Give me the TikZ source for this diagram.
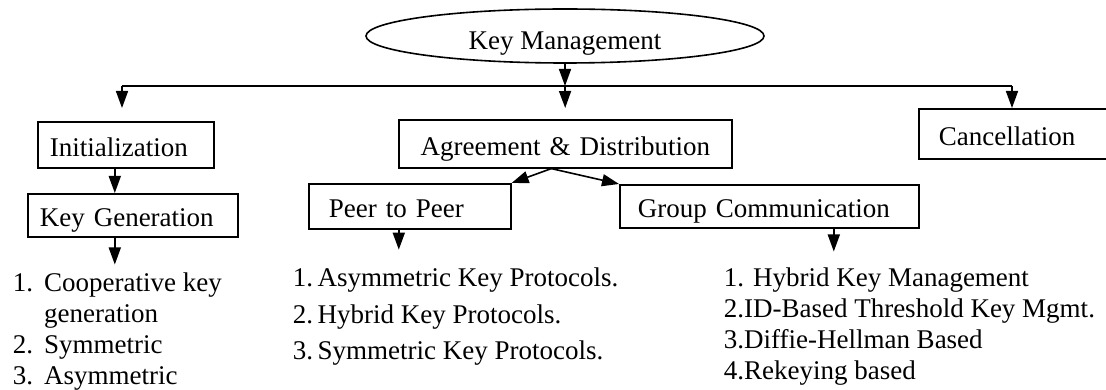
\documentclass[tikz,border=0pt]{standalone}
\usepackage{fontspec}
\setmainfont{Liberation Serif}
\usetikzlibrary{shapes.geometric,arrows.meta}

\begin{document}
\begin{tikzpicture}[x=1pt,y=-1pt,line width=1.6pt,
    font=\fontsize{27}{31}\selectfont,
    >={Triangle[length=17pt,width=12pt]},
    box/.style={draw,rectangle,anchor=north west,inner ysep=0pt,text height=24pt,text depth=1pt,align=left},
    list/.style={anchor=base west,inner sep=0pt}]
    \useasboundingbox (0,0) rectangle (1106,390);
    \clip (0,0) rectangle (1106,390);
    \node[draw,ellipse,minimum width=398pt,minimum height=54pt,inner sep=0pt,text height=28pt,text depth=0pt] (km) at (565,36) {Key Management};
    \node[box,inner xsep=12pt,text width=152pt,minimum height=46pt] (init) at (37,121) {Initialization};
    \node[box,inner xsep=12pt,text width=186pt,minimum height=43pt] (keygen) at (27,193) {Key Generation};
    \node[box,align=center,inner xsep=10pt,text width=313pt,minimum height=48pt] (agree) at (398,119) {Agreement \& Distribution};
    \node[box,inner xsep=20pt,text width=162pt,minimum height=45pt] (peer) at (308,183) {Peer to Peer};
    \node[box,inner xsep=18pt,text width=263pt,minimum height=43pt] (group) at (619,184) {Group Communication};
    \node[box,inner xsep=20pt,text width=177pt,minimum height=50pt] (cancel) at (918,108) {Cancellation};
    \node[list] (genlist) at (12,291) {\begin{tabular}[t]{@{}l@{\hspace{11pt}}l@{}}1. & Cooperative key\\ & generation\\ 2. & Symmetric\\ 3. & Asymmetric\end{tabular}};
    \node[list,font=\fontsize{27}{36.5}\selectfont] (p2plist) at (292,287) {\begin{tabular}[t]{@{}l@{}}1.\,Asymmetric Key Protocols.\\ 2.\,Hybrid Key Protocols.\\ 3.\,Symmetric Key Protocols.\end{tabular}};
    \node[list] (grplist) at (723,287) {\begin{tabular}[t]{@{}l@{}}1. Hybrid Key Management\\ 2.ID-Based Threshold Key Mgmt.\\ 3.Diffie-Hellman Based\\ 4.Rekeying based\end{tabular}};
    \coordinate (barl) at (122,86);
    \coordinate (barm) at (565,86);
    \coordinate (barr) at (1012,86);
    \draw (barl) -- (barr);
    \draw[->] (km.south) -- (barm);
    \draw[->,shorten >=13pt] (barl) -- (barl |- init.north);
    \draw[->,shorten >=11pt] (barm) -- (agree.north);
    \draw[->] (barr) -- (barr |- cancel.north);
    \draw[->] ([xshift=-11pt]init.south) -- ([xshift=-11pt]init.south |- keygen.north);
    \draw[->,shorten >=4pt] ([xshift=-18pt]keygen.south) -- ([xshift=-18pt]keygen.south |- genlist.north);
    \draw[->] ([xshift=-14pt]agree.south) -- (peer.north east);
    \draw[->] ([xshift=-14pt]agree.south) -- (group.north west);
    \draw[->,shorten >=11pt] ([xshift=-11pt]peer.south) -- ([xshift=-11pt]peer.south |- p2plist.north);
    \draw[->,shorten >=13pt] ([xshift=64.5pt]group.south) -- ([xshift=64.5pt]group.south |- grplist.north);
\end{tikzpicture}
\end{document}
